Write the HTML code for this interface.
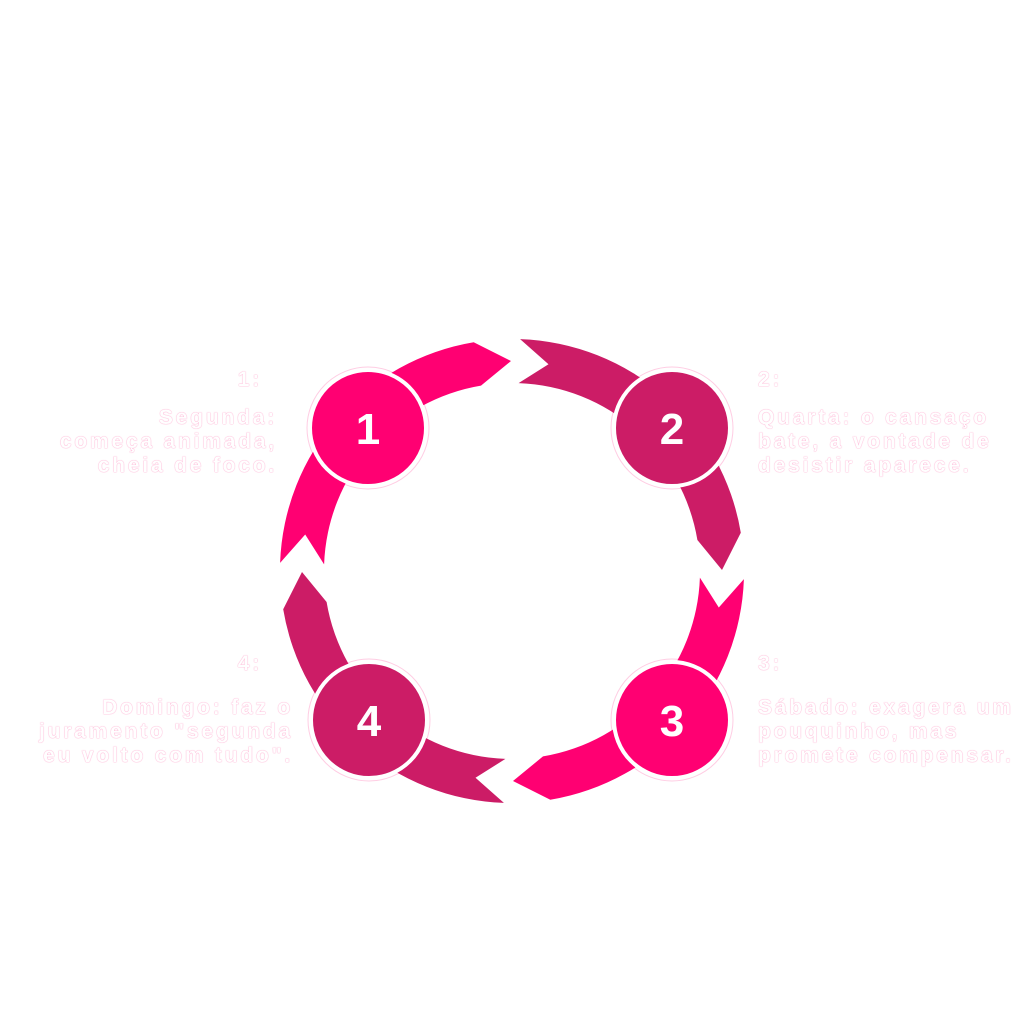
<!DOCTYPE html>
<html><head><meta charset="utf-8"><style>
html,body{margin:0;padding:0;background:#fff;}
body{width:1024px;height:1024px;position:relative;overflow:hidden;font-family:"Liberation Sans",sans-serif;}
.t{position:absolute;color:#fff;font-weight:bold;font-size:21px;letter-spacing:2.8px;line-height:24px;text-shadow:0 0 1px rgba(255,0,115,0.35),0 0 1px rgba(255,0,115,0.35);white-space:nowrap;}
.r{text-align:right;}
</style></head><body>
<svg width="1024" height="1024" style="position:absolute;left:0;top:0">
<defs>
<path id="seg" d="M280.1,562.9 A232 232 0 0 1 473.7,342.2 L511,361 L481,385.6 A188 188 0 0 0 324.1,564.4 L305.2,534.5 Z"/>
</defs>
<use href="#seg" fill="#FF0072"/>
<use href="#seg" fill="#CC1C66" transform="rotate(90 512 571)"/>
<use href="#seg" fill="#FF0072" transform="rotate(180 512 571)"/>
<use href="#seg" fill="#CC1C66" transform="rotate(270 512 571)"/>
<g stroke="#fff" stroke-width="4">
<circle cx="368" cy="428" r="58" fill="#FF0072"/>
<circle cx="672" cy="428" r="58" fill="#CC1C66"/>
<circle cx="672" cy="720" r="58" fill="#FF0072"/>
<circle cx="369" cy="720" r="58" fill="#CC1C66"/>
</g>
<g fill="none" stroke="rgba(255,0,115,0.2)" stroke-width="1">
<circle cx="368" cy="428" r="61"/><circle cx="672" cy="428" r="61"/>
<circle cx="672" cy="720" r="61"/><circle cx="369" cy="720" r="61"/>
</g>
<g fill="#fff" font-family="Liberation Sans, sans-serif" font-weight="bold" font-size="44" text-anchor="middle">
<text x="368" y="444">1</text><text x="672" y="444">2</text>
<text x="672" y="736">3</text><text x="369" y="736">4</text>
</g>
</svg>
<div class="t r" style="right:762px;top:368px;">1:</div>
<div class="t r" style="right:747px;top:406px;">Segunda:<br>começa animada,<br>cheia de foco.</div>
<div class="t" style="left:758px;top:368px;">2:</div>
<div class="t" style="left:758px;top:406px;">Quarta: o cansaço<br>bate, a vontade de<br>desistir aparece.</div>
<div class="t" style="left:758px;top:652px;">3:</div>
<div class="t" style="left:758px;top:696px;">Sábado: exagera um<br>pouquinho, mas<br>promete compensar.</div>
<div class="t r" style="right:762px;top:652px;">4:</div>
<div class="t r" style="right:731px;top:696px;">Domingo: faz o<br>juramento "segunda<br>eu volto com tudo".</div>
</body></html>
